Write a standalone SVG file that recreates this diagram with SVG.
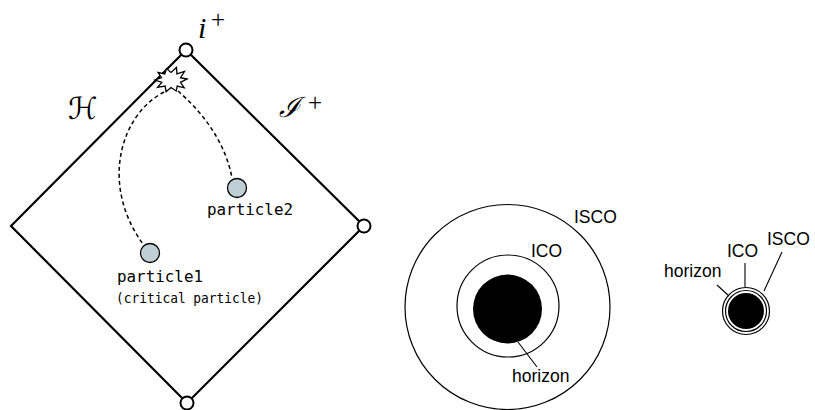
<svg xmlns="http://www.w3.org/2000/svg" width="815" height="410" viewBox="0 0 815 410">
<defs>
<style>
.edge{fill:none;stroke:#000;stroke-width:2.2;stroke-linecap:round}
.vertex{fill:#fff;stroke:#000;stroke-width:2}
.dash{fill:none;stroke:#000;stroke-width:1.5;stroke-dasharray:4 3}
.particle{fill:#c0ced6;stroke:#000;stroke-width:1.3}
.mono{font-family:"DejaVu Sans Mono","Liberation Mono",monospace;fill:#000}
.sans{font-family:"Liberation Sans",Arial,sans-serif;font-size:17.5px;fill:#000}
.math{font-family:"Liberation Serif","DejaVu Serif",serif;fill:#000}
.script{font-family:"DejaVu Sans","DejaVu Serif",serif;fill:#000}
.ring{fill:none;stroke:#000;stroke-width:1.2}
.lead{fill:none;stroke:#000;stroke-width:1.1}
</style>
</defs>
<rect width="815" height="410" fill="#fff"/>
<g id="connectors">
<path class="edge" d="M186,50 L364,226 L187,403 L11,226 Z"/>
<path class="dash" d="M164,92 C120,115 100,185 143,244"/>
<path class="dash" d="M178,91 C200,110 225,140 232,178"/>
</g>
<g id="explosion">
<polygon fill="#fff" stroke="#000" stroke-width="1.3" points="187,79 180.5,77.7 184.5,71.5 176.9,73.9 176.5,67.5 171,72.5 166.5,68.6 164.8,73.9 158.1,72.5 161.5,77.7 155,80 161.8,82.3 157.6,87.4 165.1,86.1 166.1,91.8 171,87.5 176.3,91 177.2,86.1 184.2,87.8 180.5,82.3"/>
</g>
<g id="top-vertex"><circle class="vertex" cx="186" cy="50" r="6.5"/>
<text class="math" x="198" y="38" font-size="30" font-style="italic">i</text>
<text class="math" x="211" y="28" font-size="25">+</text></g>
<g id="right-vertex"><circle class="vertex" cx="364" cy="226" r="6.5"/></g>
<g id="bottom-vertex"><circle class="vertex" cx="187" cy="403" r="6.5"/></g>
<g id="horizon-label"><text class="script" x="68" y="119" font-size="30">ℋ</text></g>
<g id="scri-label"><text font-family="'DejaVu Serif',serif" font-style="italic" x="279" y="117" font-size="28">ℐ</text>
<text class="math" x="308" y="111" font-size="25">+</text></g>
<g id="particle2"><circle class="particle" cx="237" cy="188" r="9.5"/>
<text class="mono" x="207" y="215" font-size="15" textLength="86" lengthAdjust="spacingAndGlyphs">particle2</text></g>
<g id="particle1"><circle class="particle" cx="150" cy="253" r="9.5"/>
<text class="mono" x="117" y="282" font-size="15" textLength="86" lengthAdjust="spacingAndGlyphs">particle1</text>
<text class="mono" x="116" y="303" font-size="14" textLength="147" lengthAdjust="spacingAndGlyphs">(critical particle)</text></g>
<g id="orbits-large">
<circle class="ring" cx="507.5" cy="307" r="102.5"/>
<circle class="ring" cx="508" cy="306" r="51"/>
<circle cx="507.5" cy="309" r="34.5" fill="#000"/>
<path class="lead" d="M518,342 L537,367"/>
<text class="sans" x="574" y="223">ISCO</text>
<text class="sans" x="531" y="257">ICO</text>
<text class="sans" x="512" y="382">horizon</text>
</g>
<g id="orbits-small">
<circle class="ring" cx="746" cy="311" r="23.5"/>
<circle class="ring" cx="746" cy="311" r="20.5"/>
<circle cx="746" cy="311" r="18" fill="#000"/>
<path class="lead" d="M717,285 L729,296"/>
<path class="lead" d="M745,263 L745,287"/>
<path class="lead" d="M782,252 L764,291"/>
<text class="sans" x="664" y="277">horizon</text>
<text class="sans" x="727" y="257">ICO</text>
<text class="sans" x="767" y="245">ISCO</text>
</g>
</svg>
